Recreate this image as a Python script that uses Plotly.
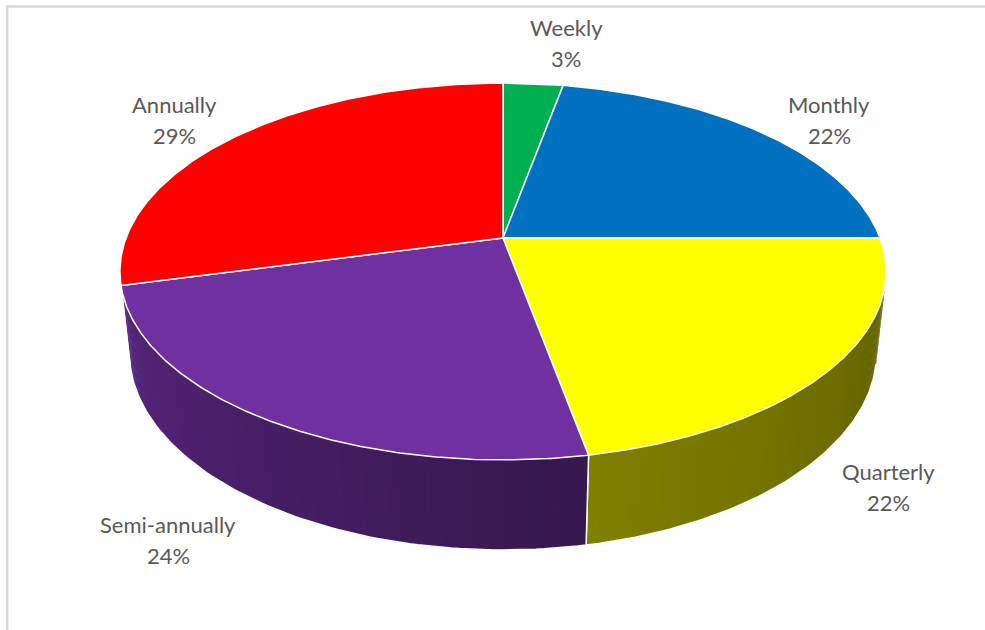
import numpy as np
import plotly.graph_objects as go

# Survey: how often the review is carried out
categories = ["Weekly", "Monthly", "Quarterly", "Semi-annually", "Annually"]
shares = [3, 22, 22, 24, 29]
pct_labels = ["3%", "22%", "22%", "24%", "29%"]
top_colors = ["#00B050", "#0070C0", "#FFFF00", "#7030A0", "#FF0000"]

# label block centres (pixels)
label_pos = [(566, 43), (829, 120), (888, 487), (168, 540), (174, 120)]

W, H_PX = 985, 630

# --- perspective projection of a short cylinder (radius 1, height THK) ---
CX, CY = 503, 238
SIN_P = 0.484
COS_P = np.sqrt(1 - SIN_P ** 2)
K = 0.1777
D = COS_P / K
F = 377 * D
THK = 0.2475


def project(theta_deg, z):
    t = np.radians(theta_deg)
    u, v = np.sin(t), np.cos(t)
    yc = v * SIN_P + z * COS_P
    depth = D + v * COS_P - z * SIN_P
    return CX + F * u / depth, CY - F * yc / depth


def shade(hex_color, b):
    h = hex_color.lstrip("#")
    r, g, bl = (int(h[i:i + 2], 16) for i in (0, 2, 4))
    return "rgb({:.0f},{:.0f},{:.0f})".format(r * b, g * b, bl * b)


# side brightness as a function of angle (light from the left)
def brightness(theta):
    return float(np.interp(theta, [90, 170, 180, 260], [0.36, 0.50, 0.52, 0.80]))


# visible range of the cylinder wall
lim = np.degrees(np.arccos(-1 / (D * COS_P)))
VIS_A, VIS_B = lim, 360 - lim

bounds = np.concatenate([[0], np.cumsum(shares)]) / sum(shares) * 360.0

fig = go.Figure()

# side walls, drawn as thin shaded strips that overlap slightly
for i, c in enumerate(categories):
    a, b = max(bounds[i], VIS_A), min(bounds[i + 1], VIS_B)
    if b <= a:
        continue
    n = max(2, int(np.ceil((b - a) / 0.8)))
    edges = np.linspace(a, b, n + 1)
    step = edges[1] - edges[0]
    for j in range(n):
        t0 = edges[j]
        t1 = min(edges[j + 1] + 0.6 * step, b)
        ts = np.linspace(t0, t1, 3)
        xt, yt = project(ts, 0)
        xb, yb = project(ts[::-1], -THK)
        col = shade(top_colors[i], brightness((edges[j] + edges[j + 1]) / 2))
        fig.add_trace(go.Scatter(
            x=np.concatenate([xt, xb, xt[:1]]), y=np.concatenate([yt, yb, yt[:1]]),
            mode="lines", fill="toself", fillcolor=col,
            line=dict(width=0), hoverinfo="skip", showlegend=False))
    # white edges of the wall: bottom rim and slice seams
    ts = np.linspace(a, b, 80)
    xb, yb = project(ts, -THK)
    xs, ys = list(xb), list(yb)
    if bounds[i] > VIS_A:
        x0, y0 = project(np.array([a, a]), np.array([0, -THK]))
        xs = list(x0) + xs
        ys = list(y0) + ys
    if bounds[i + 1] < VIS_B:
        x1, y1 = project(np.array([b, b]), np.array([-THK, 0]))
        xs = xs + list(x1)
        ys = ys + list(y1)
    fig.add_trace(go.Scatter(x=xs, y=ys, mode="lines",
                             line=dict(color="white", width=1.5),
                             hoverinfo="skip", showlegend=False))

# top faces
for i, c in enumerate(categories):
    ts = np.linspace(bounds[i], bounds[i + 1], 200)
    xa, ya = project(ts, 0)
    xs = np.concatenate([[CX], xa, [CX]])
    ys = np.concatenate([[CY], ya, [CY]])
    fig.add_trace(go.Scatter(
        x=xs, y=ys, mode="lines", fill="toself", fillcolor=top_colors[i],
        line=dict(color="white", width=1.5), name=c,
        hoverinfo="skip", showlegend=False))

# data labels
font = dict(family="Lato, Carlito, Calibri, sans-serif", size=22, color="#595959")
for (lx, ly), c, p in zip(label_pos, categories, pct_labels):
    fig.add_annotation(x=lx, y=ly - 15.5, text=c, showarrow=False, font=font,
                       xanchor="center", yanchor="middle")
    fig.add_annotation(x=lx, y=ly + 15.5, text=p, showarrow=False, font=font,
                       xanchor="center", yanchor="middle")

# chart-area frame
fig.add_shape(type="rect", x0=7.3, y0=6.5, x1=W + 20, y1=H_PX + 20,
              line=dict(color="#D9D9D9", width=2.5), layer="above")

fig.update_layout(
    width=W, height=H_PX, margin=dict(l=0, r=0, t=0, b=0),
    paper_bgcolor="white", plot_bgcolor="white",
    xaxis=dict(range=[0, W], visible=False, fixedrange=True),
    yaxis=dict(range=[H_PX, 0], visible=False, fixedrange=True),
)

fig.write_html("out.html")
